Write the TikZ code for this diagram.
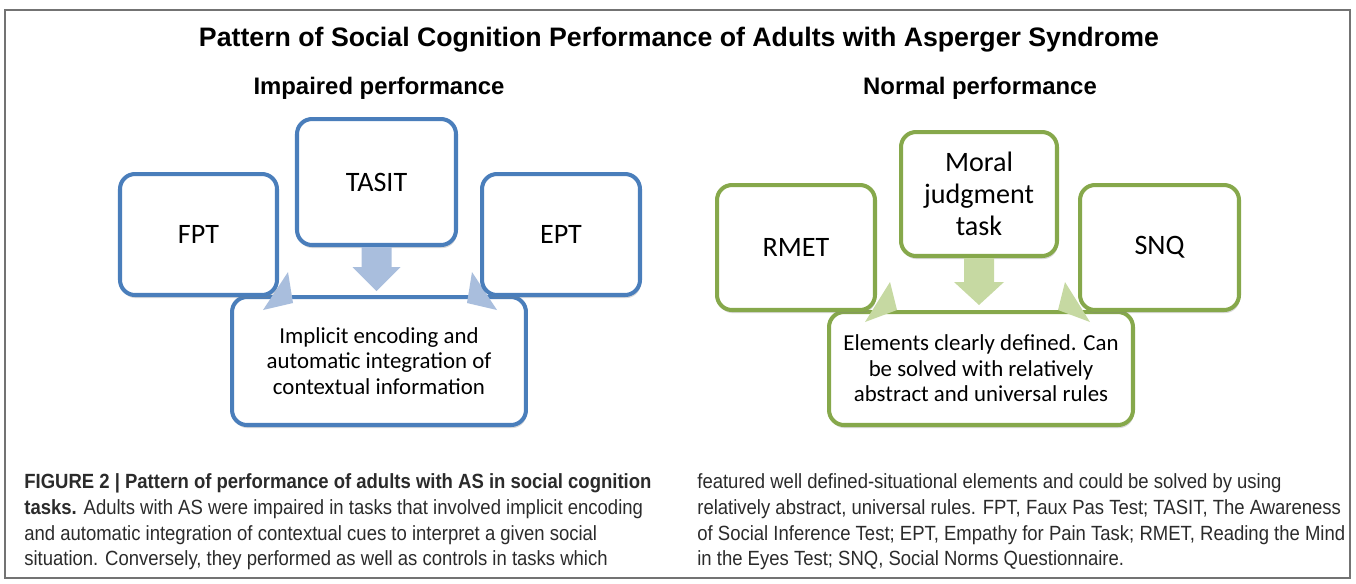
\documentclass[tikz,border=0pt]{standalone}
\usepackage{fontspec}
\setmainfont{Liberation Sans}
\newfontfamily\boxfont{Carlito}
\newfontfamily\capfont[FakeStretch=0.9]{Liberation Sans}
\usetikzlibrary{calc,shadows}
\definecolor{blueline}{HTML}{4A7EBB}
\definecolor{bluearrow}{HTML}{A9BEDD}
\definecolor{greenline}{HTML}{86A84B}
\definecolor{greenarrow}{HTML}{C6D9A2}
\definecolor{captext}{HTML}{2B2B2B}
\pgfdeclarelayer{bg}
\pgfsetlayers{bg,main}
\tikzset{
  taskbox/.style={draw=#1, line width=2.3pt, rounded corners=0.3cm, fill=white,
    drop shadow={shadow xshift=0.5pt, shadow yshift=-1.8pt, opacity=0.3},
    align=center, inner sep=0pt},
  bigtext/.style={font=\boxfont\fontsize{16}{18.2}\selectfont},
  smalltext/.style={font=\boxfont\fontsize{13}{14.5}\selectfont},
  captionline/.style={anchor=west, inner sep=0pt, text=captext, font=\capfont\fontsize{11.7}{13}\selectfont},
}
\begin{document}
\begin{tikzpicture}[x=0.02cm, y=-0.02cm]
\useasboundingbox (0,0) rectangle (1356,583);
\draw [black!55, line width=1.1pt] (5,10) rectangle (1350,578);
% headings
\node (title) at (679,40) {\fontsize{15.2}{18}\selectfont\bfseries Pattern of Social Cognition Performance of Adults with Asperger Syndrome};
\node (subA) at (379,88) {\fontsize{13.6}{16}\selectfont\bfseries Impaired performance};
\node (subB) at (980,88) {\fontsize{13.6}{16}\selectfont\bfseries Normal performance};
% impaired tasks
\node [taskbox=blueline, bigtext, minimum width=3.14cm, minimum height=2.42cm] (fpt) at (198.5,234.5) {FPT};
\node [taskbox=blueline, bigtext, minimum width=3.18cm, minimum height=2.52cm] (tasit) at (376.5,182) {TASIT};
\node [taskbox=blueline, bigtext, minimum width=3.16cm, minimum height=2.42cm] (ept) at (561,234.5) {EPT};
% normal tasks
\node [taskbox=greenline, bigtext, minimum width=3.16cm, minimum height=2.5cm] (rmet) at (796,247.5) {RMET};
\node [taskbox=greenline, bigtext, minimum width=3.12cm, minimum height=2.48cm] (moral) at (979,194) {Moral\\judgment\\task};
\node [taskbox=greenline, bigtext, minimum width=3.18cm, minimum height=2.5cm] (snq) at (1159.5,247.5) {SNQ};
\begin{pgfonlayer}{bg}
\node [taskbox=blueline, smalltext, minimum width=5.88cm, minimum height=2.56cm] (implicit) at (379,361) {Implicit encoding and\\automatic integration of\\contextual information};
\node [taskbox=greenline, smalltext, minimum width=6.08cm, minimum height=2.26cm] (elements) at (981,368.5) {Elements clearly defined. Can\\be solved with relatively\\abstract and universal rules};
% side arrow tips
\fill [bluearrow] ($(fpt.south east)+(9,-25)$) -- ($(fpt.south east)+(14,6)$) -- ($(fpt.south east)+(-16,13)$) -- cycle;
\fill [bluearrow] ($(ept.south west)+(-8,-25)$) -- ($(ept.south west)+(-13,6)$) -- ($(ept.south west)+(17,13)$) -- cycle;
\fill [greenarrow] ($(rmet.south east)+(13,-30)$) -- ($(rmet.south east)+(20,-2)$) -- ($(rmet.south east)+(-12,10)$) -- cycle;
\fill [greenarrow] ($(snq.south west)+(-13,-30)$) -- ($(snq.south west)+(-20,-2)$) -- ($(snq.south west)+(12,10)$) -- cycle;
\end{pgfonlayer}
% middle arrows
\fill [bluearrow] ($(tasit.south)+(-15,0)$) -- ($(tasit.south)+(-15,20)$) -- ($(tasit.south)+(-24,20)$)
  -- ($(tasit.south |- implicit.north)+(0,-4)$) -- ($(tasit.south)+(24,20)$) -- ($(tasit.south)+(15,20)$)
  -- ($(tasit.south)+(15,0)$) -- cycle;
\fill [greenarrow] ($(moral.south)+(-15,0)$) -- ($(moral.south)+(-15,24)$) -- ($(moral.south)+(-25,24)$)
  -- ($(moral.south |- elements.north)+(0,-5)$) -- ($(moral.south)+(25,24)$) -- ($(moral.south)+(15,24)$)
  -- ($(moral.south)+(15,0)$) -- cycle;
% caption
\node [captionline] (capA1) at (24,483) {\bfseries FIGURE 2 | Pattern of performance of adults with AS in social cognition};
\node [captionline] (capA2) at (24,509) {\textbf{tasks.} Adults with AS were impaired in tasks that involved implicit encoding};
\node [captionline] (capA3) at (24,535) {and automatic integration of contextual cues to interpret a given social};
\node [captionline] (capA4) at (24,560) {situation. Conversely, they performed as well as controls in tasks which};
\node [captionline] (capB1) at (697,483) {featured well defined-situational elements and could be solved by using};
\node [captionline] (capB2) at (697,509) {relatively abstract, universal rules. FPT, Faux Pas Test; TASIT, The Awareness};
\node [captionline] (capB3) at (697,535) {of Social Inference Test; EPT, Empathy for Pain Task; RMET, Reading the Mind};
\node [captionline] (capB4) at (697,560) {in the Eyes Test; SNQ, Social Norms Questionnaire.};
\end{tikzpicture}
\end{document}
